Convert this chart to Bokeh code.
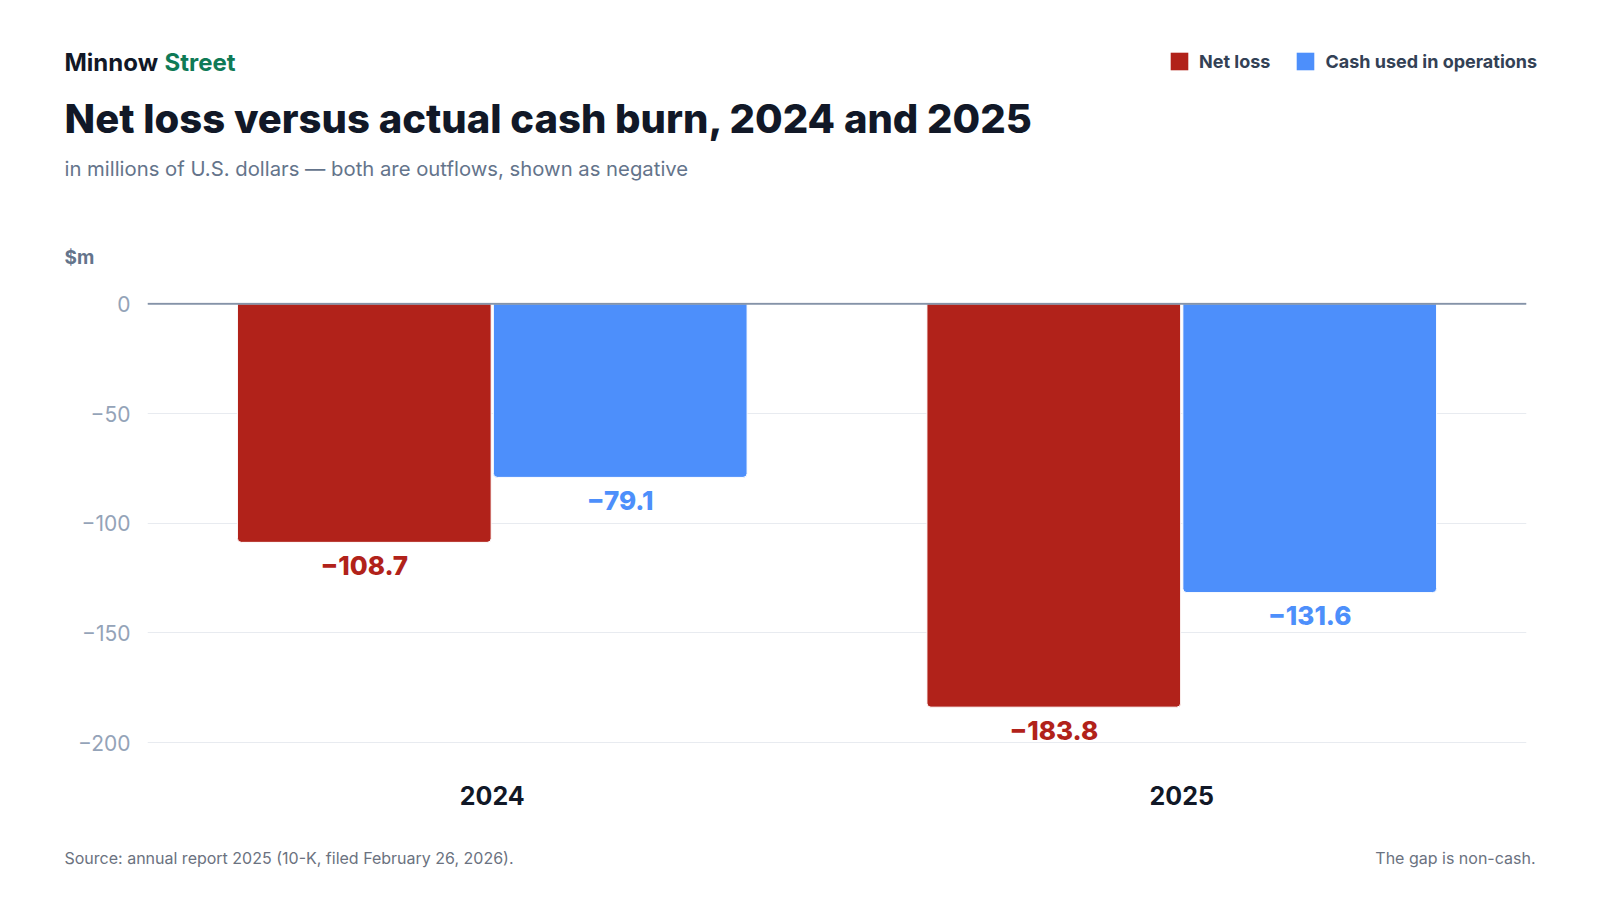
from bokeh.plotting import figure
from bokeh.layouts import column
from bokeh.models import (FactorRange, Range1d, Label, Legend, LegendItem, Span,
                          FixedTicker, ColumnDataSource)
from bokeh.transform import dodge
from bokeh.core.properties import value
from bokeh.embed import file_html
from bokeh.resources import INLINE

# ---- data ----
years = ["2024", "2025"]
net_loss = [-108.7, -183.8]
cash_used = [-79.1, -131.6]
series_names = ["Net loss", "Cash used in operations"]
y_ticks = [-200, -150, -100, -50, 0]

RED = "#b1221a"
BLUE = "#4d8ffb"
DARK = "#111827"
SLATE = "#64748b"
FONT = "Inter"
HEAVY = "'Inter ExtraBold', Inter"
W = 1600
H_HEAD, H_MAIN, H_FOOT = 275, 540, 85


def fmt1(v):
    return ("\u2212" if v < 0 else "") + f"{abs(v):.1f}"


def fmt0(v):
    return ("\u2212" if v < 0 else "") + f"{abs(v):d}"


def blank(height):
    f = figure(width=W, height=height, x_range=Range1d(0, W), y_range=Range1d(height, 0),
               output_backend="svg", toolbar_location=None, x_axis_location=None,
               y_axis_location=None, min_border=0, frame_align=False)
    f.outline_line_color = None
    f.grid.grid_line_color = None
    f.background_fill_color = "white"
    f.border_fill_color = "white"
    return f


def lab(f, txt, x, y, size, color, style="normal", align="left", font=FONT):
    f.add_layout(Label(x=x, y=y, text=txt, text_font=font, text_font_size=size,
                       text_font_style=style, text_color=color, text_align=align,
                       text_baseline="middle"))


# ---------------- header ----------------
head = blank(H_HEAD)
lab(head, "Minnow", 64, 62, "24px", DARK, "bold")
lab(head, "Street", 164, 62, "24px", "#0f7a56", "bold")
lab(head, "Net loss versus actual cash burn, 2024 and 2025", 64, 118, "40px", DARK, "bold", font=HEAVY)
lab(head, "in millions of U.S. dollars \u2014 both are outflows, shown as negative", 64, 168, "20.3px", SLATE)
lab(head, "$m", 64, 257, "19px", SLATE, "bold")

# hidden legend proxies (the legend draws their swatches)
lp1 = head.rect(x=[0], y=[0], width=0, height=0, fill_color=RED, line_color=None, visible=False)
lp2 = head.rect(x=[0], y=[0], width=0, height=0, fill_color=BLUE, line_color=None, visible=False)
legend = Legend(items=[LegendItem(label=series_names[0], renderers=[lp1]),
                       LegendItem(label=series_names[1], renderers=[lp2])],
                orientation="horizontal", location=(1168, H_HEAD - 72), padding=0, margin=0,
                spacing=24, glyph_width=22, glyph_height=22, label_height=22,
                label_standoff=9, label_text_font=FONT, label_text_font_size="18px",
                label_text_font_style="bold", label_text_color="#334155",
                border_line_color=None, background_fill_alpha=0, inactive_fill_alpha=0)
head.add_layout(legend, "center")

# ---------------- main chart ----------------
src = ColumnDataSource(dict(
    years=years,
    net_loss=net_loss,
    cash_used=cash_used,
    net_lbl=[fmt1(v) for v in net_loss],
    cash_lbl=[fmt1(v) for v in cash_used],
))

p = figure(width=W, height=H_MAIN, x_range=FactorRange(*years, range_padding=0),
           y_range=Range1d(-204, 0.6), output_backend="svg", toolbar_location=None,
           min_border_left=147, min_border_right=74, min_border_top=27, min_border_bottom=64,
           frame_align=False)
p.outline_line_color = None
p.background_fill_color = "white"
p.border_fill_color = "white"

OFF = 0.1856
BW = 0.368
r1 = p.vbar(x=dodge("years", -OFF, range=p.x_range), top=0, bottom="net_loss", width=BW,
            source=src, fill_color=RED, line_color="white", line_width=1,
            border_radius=(0, 0, 4, 4))
r2 = p.vbar(x=dodge("years", OFF, range=p.x_range), top=0, bottom="cash_used", width=BW,
            source=src, fill_color=BLUE, line_color="white", line_width=1,
            border_radius=(0, 0, 4, 4))

p.text(x=dodge("years", -OFF, range=p.x_range), y="net_loss", text="net_lbl", source=src,
       text_align="center", text_baseline="middle", y_offset=23,
       text_font=value(HEAVY), text_font_style="bold", text_font_size=value("26px"),
       text_color=RED)
p.text(x=dodge("years", OFF, range=p.x_range), y="cash_used", text="cash_lbl", source=src,
       text_align="center", text_baseline="middle", y_offset=23,
       text_font=value(HEAVY), text_font_style="bold", text_font_size=value("26px"),
       text_color=BLUE)

p.add_layout(Span(location=0, dimension="width", line_color="#8593a8", line_width=2))

p.xgrid.grid_line_color = None
p.ygrid.grid_line_color = "#e8ebf0"
p.ygrid.grid_line_width = 1
p.yaxis.ticker = FixedTicker(ticks=y_ticks)
p.yaxis.major_label_overrides = {t: fmt0(t) for t in y_ticks}
for ax in (p.xaxis[0], p.yaxis[0]):
    ax.axis_line_color = None
    ax.major_tick_line_color = None
    ax.minor_tick_line_color = None
    ax.major_tick_out = 0
    ax.major_tick_in = 0
    ax.major_label_text_font = FONT
p.yaxis.major_label_text_font_size = "21px"
p.yaxis.major_label_text_color = "#94a3b8"
p.yaxis.major_label_standoff = 17
p.xaxis.major_label_text_font_size = "25px"
p.xaxis.major_label_text_font_style = "bold"
p.xaxis.major_label_text_color = DARK
p.xaxis.major_label_standoff = 34

# ---------------- footer ----------------
foot = blank(H_FOOT)
lab(foot, "Source: annual report 2025 (10-K, filed February 26, 2026).", 64, 857 - 815, "16px", "#6b7280")
lab(foot, "The gap is non-cash.", 1535, 857 - 815, "16px", "#6b7280", align="right")

layout = column(head, p, foot, spacing=0)
open("out.html", "w").write(file_html(layout, INLINE))
